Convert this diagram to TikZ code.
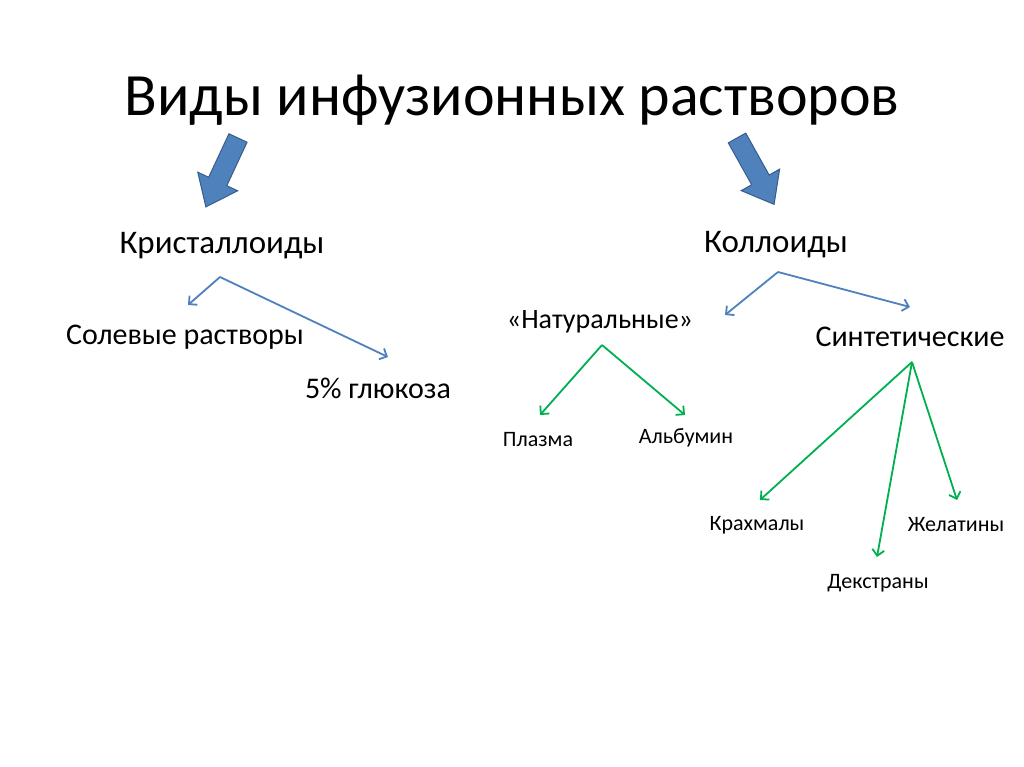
\documentclass[tikz,border=0pt]{standalone}
\usepackage{fontspec}
\setmainfont{Carlito}
\usetikzlibrary{arrows.meta}
\begin{document}
\begin{tikzpicture}[x=1pt,y=-1pt,
 lbl/.style={inner sep=0pt,anchor=center},
 bluel/.style={draw={rgb,255:red,79;green,129;blue,189},line width=1.8pt,-{Straight Barb[length=6pt,width=12pt]}},
 greenl/.style={draw={rgb,255:red,0;green,176;blue,80},line width=1.8pt,-{Straight Barb[length=6pt,width=12pt]}},
 blk/.style={fill={rgb,255:red,79;green,129;blue,189},draw={rgb,255:red,56;green,93;blue,138},line width=1pt,line join=miter}]
\useasboundingbox (0,0) rectangle (1024,767);
\fill[white] (0,0) rectangle (1024,767);
\node[lbl,font=\fontsize{60}{60}\selectfont] (t) at (512,100) {Виды инфузионных растворов};
\node[lbl,font=\fontsize{33}{33}\selectfont] (kr) at (222,246) {Кристаллоиды};
\node[lbl,font=\fontsize{30}{30}\selectfont] (sol) at (185,337) {Солевые растворы};
\node[lbl,font=\fontsize{30}{30}\selectfont] (gl) at (378,388) {5\% глюкоза};
\node[lbl,font=\fontsize{33}{33}\selectfont] (ko) at (776,245) {Коллоиды};
\node[lbl,font=\fontsize{28}{28}\selectfont] (nat) at (600,322) {«Натуральные»};
\node[lbl,font=\fontsize{30}{30}\selectfont] (sin) at (910,337) {Синтетические};
\node[lbl,font=\fontsize{22}{22}\selectfont] (pl) at (538,440) {Плазма};
\node[lbl,font=\fontsize{22}{22}\selectfont] (al) at (686,438) {Альбумин};
\node[lbl,font=\fontsize{22}{22}\selectfont] (kh) at (757,525) {Крахмалы};
\node[lbl,font=\fontsize{22}{22}\selectfont] (zh) at (956,525) {Желатины};
\node[lbl,font=\fontsize{22}{22}\selectfont] (de) at (878,583) {Декстраны};
\coordinate (k0) at (220,277);
\coordinate (c0) at (778,272);
\coordinate (n0) at (602,345);
\coordinate (s0) at (912,362);
\draw[bluel] (k0) -- (188,305);
\draw[bluel] (k0) -- (388,357);
\draw[bluel] (c0) -- (725,315);
\draw[bluel] (c0) -- (910,307);
\draw[greenl] (n0) -- (540,415);
\draw[greenl] (n0) -- (685,415);
\draw[greenl] (s0) -- (760,500);
\draw[greenl] (s0) -- (877,557);
\draw[greenl] (s0) -- (957,500);
\begin{scope}[shift={(238,138)},rotate=245]
\draw[blk] (0,-10) -- (48,-10) -- (48,-22) -- (76,0) -- (48,22) -- (48,10) -- (0,10) -- cycle;
\end{scope}
\begin{scope}[shift={(737,138)},rotate=-60.8]
\draw[blk] (0,-10) -- (48,-10) -- (48,-22) -- (76,0) -- (48,22) -- (48,10) -- (0,10) -- cycle;
\end{scope}
\end{tikzpicture}
\end{document}
